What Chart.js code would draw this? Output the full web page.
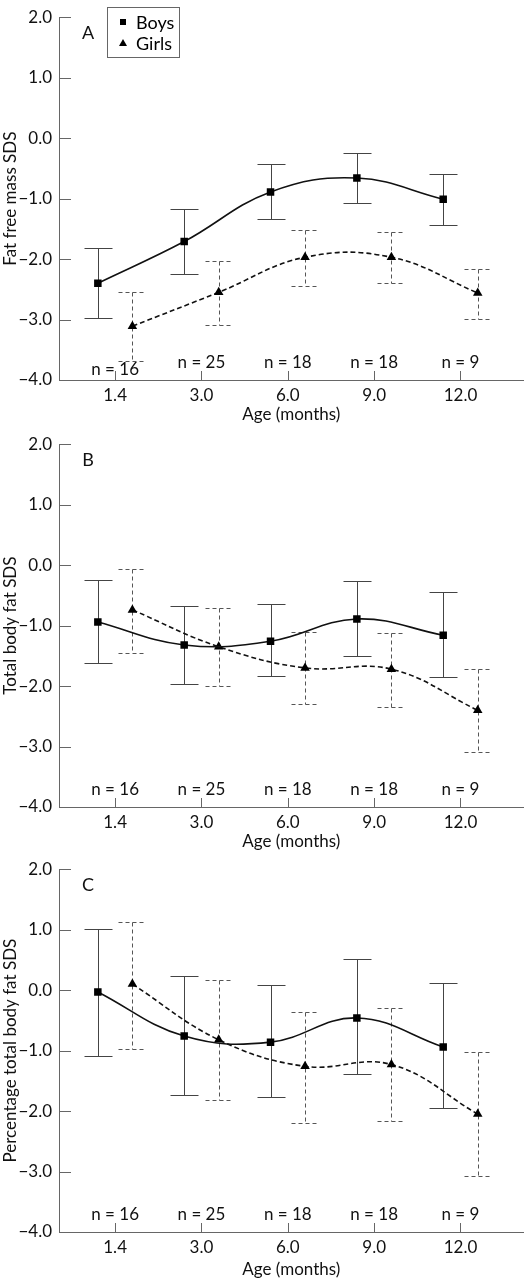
<!DOCTYPE html>
<html>
<head>
<meta charset="utf-8">
<script src="https://cdn.jsdelivr.net/npm/chart.js"></script>
<style>
  html, body { margin: 0; padding: 0; background: #fff; }
  #wrap { position: relative; width: 529px; height: 1280px; overflow: hidden; }
  .panel { position: absolute; left: 0; }
</style>
</head>
<body>
<div id="wrap">
  <canvas id="panelA" class="panel" width="529" height="426" style="top:0px"></canvas>
  <canvas id="panelB" class="panel" width="529" height="426" style="top:427px"></canvas>
  <canvas id="panelC" class="panel" width="529" height="428" style="top:852px"></canvas>
</div>
<script>
const ageLabels = ['1.4', '3.0', '6.0', '9.0', '12.0'];
const nLabels = ['n = 16', 'n = 25', 'n = 18', 'n = 18', 'n = 9'];
const seriesNames = ['Boys', 'Girls'];

// A - fat free mass SDS
const boysFatFree = [-2.40, -1.71, -0.89, -0.66, -1.01];
const boysFatFreeLow = [-2.98, -2.25, -1.34, -1.07, -1.43];
const boysFatFreeHigh = [-1.81, -1.18, -0.43, -0.24, -0.59];
const girlsFatFree = [-3.11, -2.55, -1.97, -1.97, -2.56];
const girlsFatFreeLow = [-3.68, -3.09, -2.44, -2.40, -2.99];
const girlsFatFreeHigh = [-2.54, -2.03, -1.52, -1.56, -2.16];

// B - total body fat SDS
const boysFat = [-0.94, -1.32, -1.26, -0.89, -1.16];
const boysFatLow = [-1.62, -1.96, -1.84, -1.50, -1.85];
const boysFatHigh = [-0.24, -0.68, -0.64, -0.27, -0.45];
const girlsFat = [-0.74, -1.35, -1.70, -1.72, -2.40];
const girlsFatLow = [-1.45, -2.00, -2.29, -2.34, -3.09];
const girlsFatHigh = [-0.06, -0.71, -1.10, -1.13, -1.71];

// C - percentage total body fat SDS
const boysPct = [-0.03, -0.76, -0.86, -0.46, -0.94];
const boysPctLow = [-1.09, -1.73, -1.77, -1.39, -1.95];
const boysPctHigh = [1.01, 0.24, 0.09, 0.51, 0.12];
const girlsPct = [0.10, -0.82, -1.26, -1.23, -2.05];
const girlsPctLow = [-0.97, -1.81, -2.20, -2.17, -3.07];
const girlsPctHigh = [1.12, 0.16, -0.36, -0.29, -1.02];

const yTicks = [-4, -3, -2, -1, 0, 1, 2];

const FONT = 'Lato, "DejaVu Sans", sans-serif';
const AXIS = '#666';

function fmtY(v) {
  return (v < 0 ? '\u2212' : '') + Math.abs(v).toFixed(1);
}

function toPoints(vals, shift) {
  return vals.map((v, i) => ({ x: i + 1 + shift, y: v }));
}

// error bars, inward ticks, n labels, panel letter, legend
const extras = {
  id: 'extras',
  beforeDatasetsDraw(chart) {
    const ctx = chart.ctx;
    const xs = chart.scales.x, ys = chart.scales.y;
    chart.data.datasets.forEach(ds => {
      ctx.save();
      ctx.strokeStyle = ds.errColor;
      ctx.lineWidth = 1;
      ctx.setLineDash(ds.errDash);
      ds.data.forEach((p, i) => {
        const x = Math.round(xs.getPixelForValue(p.x)) + 0.5;
        const yl = Math.round(ys.getPixelForValue(ds.errLow[i])) + 0.5;
        const yh = Math.round(ys.getPixelForValue(ds.errHigh[i])) + 0.5;
        ctx.beginPath();
        ctx.moveTo(x, yh); ctx.lineTo(x, yl);
        ctx.moveTo(x - 14, yh); ctx.lineTo(x + 14, yh);
        ctx.moveTo(x - 14, yl); ctx.lineTo(x + 14, yl);
        ctx.stroke();
      });
      ctx.restore();
    });
  },
  afterDraw(chart, args, opts) {
    const ctx = chart.ctx;
    const xs = chart.scales.x, ys = chart.scales.y;
    const area = chart.chartArea;
    ctx.save();
    ctx.strokeStyle = AXIS;
    ctx.lineWidth = 1;
    ctx.beginPath();
    yTicks.forEach(v => {
      const y = Math.round(ys.getPixelForValue(v)) + 0.5;
      ctx.moveTo(area.left, y); ctx.lineTo(area.left + 12, y);
    });
    ageLabels.forEach((l, i) => {
      const x = Math.round(xs.getPixelForValue(i + 1)) + 0.5;
      ctx.moveTo(x, area.bottom); ctx.lineTo(x, area.bottom - 9);
    });
    ctx.stroke();

    ctx.fillStyle = '#111';
    ctx.font = '17px ' + FONT;
    ctx.textAlign = 'center';
    ctx.textBaseline = 'middle';
    nLabels.forEach((t, i) => {
      const x = xs.getPixelForValue(i + 1);
      const dy = (i === 0 && opts.firstLow) ? 10 : 17;
      ctx.fillText(t, x, area.bottom - dy);
    });

    ctx.font = '18px ' + FONT;
    ctx.fillText(opts.letter, area.left + 29, area.top + 16);

    if (opts.legend) {
      ctx.strokeStyle = AXIS;
      ctx.strokeRect(107.5, 7.5, 72, 50);
      ctx.font = '18px ' + FONT;
      ctx.textAlign = 'left';
      ctx.fillStyle = '#000';
      chart.data.datasets.forEach((ds, k) => {
        const cy = 22 + k * 21;
        ctx.beginPath();
        if (ds.pointStyle === 'rect') {
          ctx.rect(120, cy - 3, 6, 6);
        } else {
          ctx.moveTo(123, cy - 4); ctx.lineTo(127, cy + 3); ctx.lineTo(119, cy + 3);
          ctx.closePath();
        }
        ctx.fill();
        ctx.fillText(ds.label, 136, cy + 1);
      });
    }
    ctx.restore();
  }
};

function makePanel(id, yTitle, letter, boys, boysLow, boysHigh, girls, girlsLow, girlsHigh, legend, firstLow) {
  const canvas = document.getElementById(id);
  const H = canvas.height;
  new Chart(canvas, {
    type: 'line',
    data: {
      datasets: [
        {
          label: seriesNames[0],
          data: toPoints(boys, -0.2),
          errLow: boysLow, errHigh: boysHigh,
          errColor: '#444', errDash: [],
          borderColor: '#111', borderWidth: 1.6,
          tension: 0.4,
          pointStyle: 'rect', pointRadius: 5.3,
          pointBackgroundColor: '#000', pointBorderColor: '#000', pointBorderWidth: 0
        },
        {
          label: seriesNames[1],
          data: toPoints(girls, 0.2),
          errLow: girlsLow, errHigh: girlsHigh,
          errColor: '#555', errDash: [4, 3],
          borderColor: '#111', borderWidth: 1.6, borderDash: [5, 3],
          tension: 0.4,
          pointStyle: 'triangle', pointRadius: 5.5,
          pointBackgroundColor: '#000', pointBorderColor: '#000', pointBorderWidth: 0
        }
      ]
    },
    options: {
      responsive: false,
      animation: false,
      layout: { padding: { top: 6, left: 0, right: 0, bottom: 0 } },
      plugins: {
        legend: { display: false },
        tooltip: { enabled: false },
        extras: { letter: letter, legend: legend, firstLow: firstLow }
      },
      scales: {
        x: {
          type: 'linear',
          min: 0.35, max: 5.73,
          afterBuildTicks: s => { s.ticks = ageLabels.map((l, i) => ({ value: i + 1 })); },
          afterFit: s => { s.height = H - 380; },
          grid: { display: false, drawTicks: false },
          border: { display: true, color: AXIS, width: 1 },
          ticks: {
            autoSkip: false, maxRotation: 0, padding: 5,
            color: '#111', font: { family: FONT, size: 17 },
            callback: (v, i) => ageLabels[i]
          },
          title: {
            display: true, text: 'Age (months)', color: '#111',
            font: { family: FONT, size: 17 },
            padding: { top: 0, bottom: H === 426 ? 1 : 0 }
          }
        },
        y: {
          min: -4, max: 2,
          afterFit: s => { s.width = 59; },
          grid: { display: false, drawTicks: false },
          border: { display: true, color: AXIS, width: 1 },
          ticks: {
            stepSize: 1, padding: 7,
            color: '#111', font: { family: FONT, size: 17 },
            callback: v => fmtY(v)
          },
          title: {
            display: true, text: yTitle, color: '#111',
            font: { family: FONT, size: 17 },
            padding: { top: 0, bottom: 0 }
          }
        }
      }
    },
    plugins: [extras]
  });
}

makePanel('panelA', 'Fat free mass SDS', 'A',
  boysFatFree, boysFatFreeLow, boysFatFreeHigh,
  girlsFatFree, girlsFatFreeLow, girlsFatFreeHigh, true, true);
makePanel('panelB', 'Total body fat SDS', 'B',
  boysFat, boysFatLow, boysFatHigh,
  girlsFat, girlsFatLow, girlsFatHigh, false, false);
makePanel('panelC', 'Percentage total body fat SDS', 'C',
  boysPct, boysPctLow, boysPctHigh,
  girlsPct, girlsPctLow, girlsPctHigh, false, false);
</script>
</body>
</html>
